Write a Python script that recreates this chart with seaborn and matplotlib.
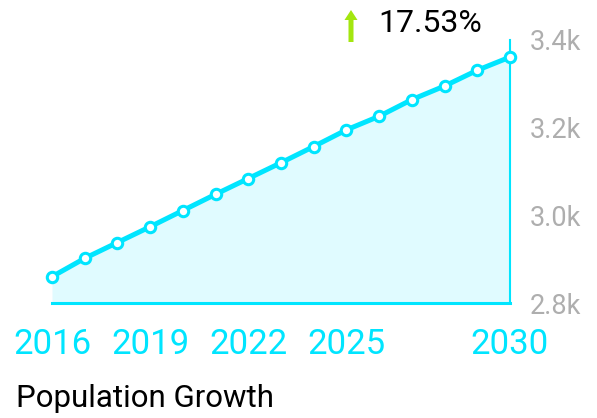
import matplotlib
matplotlib.use("Agg")
import matplotlib.pyplot as plt
from matplotlib.patches import FancyArrow
from matplotlib.transforms import IdentityTransform
import seaborn as sns
import pandas as pd

years = [2016, 2017, 2018, 2019, 2020, 2021, 2022, 2023, 2024, 2025, 2026, 2027, 2028, 2029, 2030]
population = [2860, 2902, 2938, 2974, 3011, 3048, 3084, 3120, 3157, 3195, 3226, 3264, 3295, 3331, 3361]
xtick_years = [2016, 2019, 2022, 2025, 2030]
ytick_values = [2800, 3000, 3200, 3400]
ytick_labels = ["2.8k", "3.0k", "3.2k", "3.4k"]
change_label = "17.53%"
title = "Population Growth"

sns.set_style("white")
plt.rcParams["font.family"] = ["Roboto", "DejaVu Sans"]

CYAN = "#00e5ff"
FILL = "#e0fbff"

df = pd.DataFrame({"year": years, "population": population})

fig = plt.figure(figsize=(5.97, 4.18), dpi=100)
ax = fig.add_axes([52 / 597, 1 - 303 / 418, 458 / 597, 263 / 418])

ax.fill_between(df["year"], df["population"], 2800, color=FILL, lw=0, zorder=1)
sns.lineplot(data=df, x="year", y="population", ax=ax, color=CYAN, lw=3.6,
             marker="o", markersize=7.5, markerfacecolor="white",
             markeredgecolor=CYAN, markeredgewidth=2.2, zorder=3, clip_on=False)

ax.set_xlim(2016, 2030)
ax.set_ylim(2800, 3400)
ax.set_xlabel("")
ax.set_ylabel("")

for s in ["top", "left"]:
    ax.spines[s].set_visible(False)
ax.spines["right"].set_color(CYAN)
ax.spines["right"].set_linewidth(1.5)
ax.spines["bottom"].set_color(CYAN)
ax.spines["bottom"].set_linewidth(2.2)

ax.yaxis.tick_right()
ax.set_yticks(ytick_values)
ax.set_yticklabels(ytick_labels)
ax.tick_params(axis="y", length=0, pad=14, labelsize=19.5, labelcolor="#aeaeae")

ax.set_xticks(xtick_years)
ax.set_xticklabels([str(y) for y in xtick_years])
ax.tick_params(axis="x", length=0, pad=18, labelsize=25, labelcolor=CYAN)

fig.text(16 / 597, 1 - 407 / 418, title, fontsize=22.5, color="black", ha="left", va="baseline")
fig.text(378 / 597, 1 - 24 / 418, change_label, fontsize=23, color="black", ha="left", va="center")

arrow = FancyArrow(351, 418 - 42, 0, 32, width=5, head_width=13, head_length=10,
                   length_includes_head=True, color="#a3e60f", lw=0,
                   transform=IdentityTransform())
fig.patches.append(arrow)

fig.savefig("out.png", dpi=100)
